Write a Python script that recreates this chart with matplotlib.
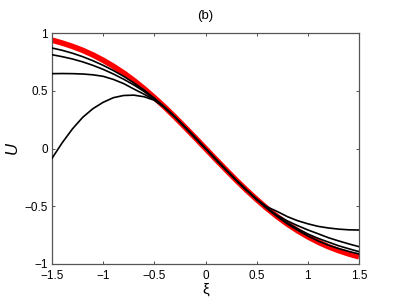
import matplotlib
matplotlib.use("Agg")
import matplotlib.pyplot as plt

plt.rcParams['font.family'] = ['Liberation Sans', 'DejaVu Sans']
plt.rcParams['axes.unicode_minus'] = True

xi = [-1.5, -1.4, -1.3, -1.2, -1.1, -1.0, -0.9, -0.8, -0.7, -0.6, -0.5,
      -0.4, -0.3, -0.2, -0.1, 0.0, 0.1, 0.2, 0.3, 0.4, 0.5,
      0.6, 0.7, 0.8, 0.9, 1.0, 1.1, 1.2, 1.3, 1.4, 1.5]

u_red = [0.938, 0.913, 0.884, 0.850, 0.810, 0.764, 0.712, 0.654, 0.589, 0.518, 0.441,
         0.360, 0.274, 0.184, 0.093, 0.0, -0.093, -0.184, -0.274, -0.360, -0.441,
         -0.518, -0.589, -0.654, -0.712, -0.764, -0.810, -0.850, -0.884, -0.913, -0.938]

u_a = [0.870, 0.850, 0.825, 0.795, 0.760, 0.720, 0.675, 0.625, 0.568, 0.506, 0.436,
       0.358, 0.274, 0.184, 0.093, 0.0, -0.093, -0.184, -0.274, -0.360, -0.441,
       -0.518, -0.588, -0.652, -0.707, -0.757, -0.800, -0.837, -0.866, -0.891, -0.913]

u_b = [0.812, 0.795, 0.775, 0.750, 0.720, 0.685, 0.645, 0.600, 0.550, 0.494, 0.431,
       0.357, 0.274, 0.184, 0.093, 0.0, -0.093, -0.184, -0.274, -0.360, -0.441,
       -0.517, -0.585, -0.645, -0.695, -0.740, -0.778, -0.810, -0.842, -0.868, -0.893]

u_c = [0.648, 0.649, 0.648, 0.645, 0.638, 0.625, 0.598, 0.562, 0.515, 0.470, 0.420,
       0.355, 0.273, 0.184, 0.093, 0.0, -0.093, -0.184, -0.274, -0.360, -0.440,
       -0.515, -0.578, -0.627, -0.668, -0.705, -0.738, -0.772, -0.800, -0.826, -0.850]

u_d = [-0.085, 0.050, 0.170, 0.270, 0.345, 0.400, 0.440, 0.459, 0.462, 0.448, 0.418,
       0.355, 0.273, 0.184, 0.093, 0.0, -0.093, -0.184, -0.274, -0.359, -0.438,
       -0.505, -0.545, -0.590, -0.625, -0.652, -0.674, -0.688, -0.698, -0.704, -0.706]

xticks = [-1.5, -1, -0.5, 0, 0.5, 1, 1.5]
xticklabels = ['\u22121.5', '\u22121', '\u22120.5', '0', '0.5', '1', '1.5']
yticks = [-1, -0.5, 0, 0.5, 1]
yticklabels = ['\u22121', '\u22120.5', '0', '0.5', '1']

fig = plt.figure(figsize=(3.96, 3.03), dpi=100)
ax = fig.add_axes([52/396, 1 - 264/303, (359 - 52)/396, (264 - 33)/303])

ax.plot(xi, u_red, color='#ff0000', lw=4.0, solid_capstyle='butt', zorder=2)
for u in (u_a, u_b, u_c, u_d):
    ax.plot(xi, u, color='black', lw=1.2, zorder=3)

ax.set_xlim(-1.5, 1.5)
ax.set_ylim(-1, 1)
ax.set_xticks(xticks)
ax.set_xticklabels(xticklabels)
ax.set_yticks(yticks)
ax.set_yticklabels(yticklabels)
ax.tick_params(direction='in', length=2.5, width=0.6, labelsize=8.5,
               top=True, right=True, colors='#333333', labelcolor='black')
ax.tick_params(axis='x', pad=4.5)
ax.tick_params(axis='y', pad=3)
for s in ax.spines.values():
    s.set_color('#555555')
    s.set_linewidth(0.9)

ax.set_title('(b)', fontsize=9.5, pad=10)
ax.set_xlabel('\u03be', fontsize=11, labelpad=0)
ax.set_ylabel('U', fontsize=12, style='italic')
ax.yaxis.set_label_coords(-0.105, 0.5)

fig.savefig('out.png', dpi=100)
